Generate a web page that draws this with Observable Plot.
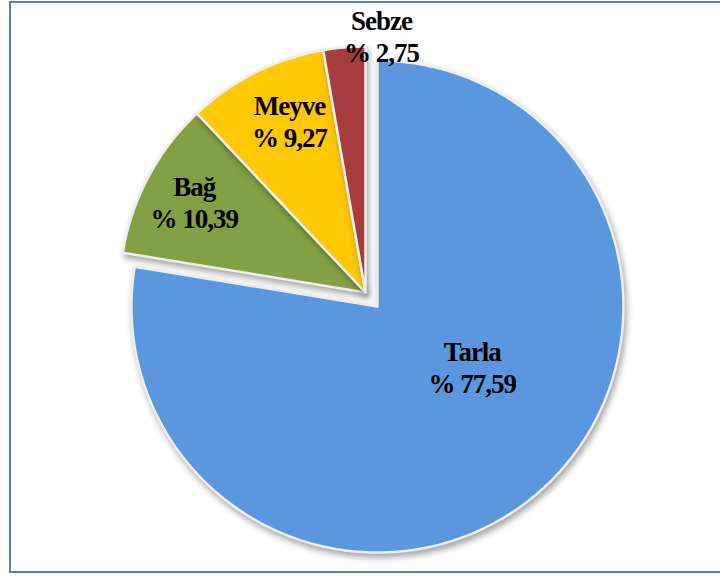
<!DOCTYPE html>
<html><head><meta charset="utf-8">
<script src="https://cdn.jsdelivr.net/npm/d3@7"></script>
<script src="https://cdn.jsdelivr.net/npm/@observablehq/plot@0.6"></script>
<style>
body{margin:0;background:#fff;}
#wrap{position:relative;width:720px;height:576px;overflow:hidden;}
#border{position:absolute;left:9px;top:1px;width:740px;height:572px;border:2px solid #4f81bd;box-sizing:border-box;pointer-events:none;}
</style></head><body>
<div id="wrap"><div id="border"></div></div>
<script>
// data
const categories = ["Tarla", "Bağ", "Meyve", "Sebze"];
const shares = [77.59, 10.39, 9.27, 2.75];
const shareLabels = ["% 77,59", "% 10,39", "% 9,27", "% 2,75"];

// styles / layout
const colors = ["#5b97de", "#84a045", "#ffc806", "#a63c3c"];
const explode = [0.075, 0, 0, 0];                 // fraction of radius
const labelPolar = [[123, 0.46], [297.6, 0.785], [335.9, 0.757], [3.6, 1.04]]; // [deg, r]

const rad = Math.PI / 180;
const pie = d3.pie().sort(null).startAngle(0).endAngle(2 * Math.PI)(shares);

const slices = pie.map((p, i) => {
  const mid = (p.startAngle + p.endAngle) / 2;
  const cx = explode[i] * Math.sin(mid), cy = -explode[i] * Math.cos(mid);
  const n = Math.max(2, Math.ceil((p.endAngle - p.startAngle) / rad));
  const ring = [[cx, cy]];
  for (let k = 0; k <= n; k++) {
    const a = p.startAngle + (p.endAngle - p.startAngle) * k / n;
    ring.push([cx + Math.sin(a), cy - Math.cos(a)]);
  }
  ring.push([cx, cy]);
  const [ld, lr] = labelPolar[i];
  return {
    type: "Feature",
    properties: {
      name: categories[i], label: shareLabels[i], color: colors[i],
      lx: cx + lr * Math.sin(ld * rad), ly: cy - lr * Math.cos(ld * rad)
    },
    geometry: {type: "Polygon", coordinates: [ring]}
  };
});
const labels = slices.map(s => s.properties);

const textOpts = {x: "lx", y: "ly", fontSize: 27, fontWeight: "bold", fill: "#000", fontFamily: "Liberation Serif", textAnchor: "middle", clip: false};

const chart = Plot.plot({
  width: 720,
  height: 576,
  marginLeft: 119, marginRight: 109, marginTop: 46, marginBottom: 38,
  projection: {type: "identity", clip: false, domain: {type: "MultiPoint", coordinates: [[-1, -1], [1, 1]]}},
  color: {type: "identity"},
  marks: [
    Plot.geo(slices, {fill: d => d.properties.color, stroke: "#eeeeee", strokeWidth: 2.5, clip: false}),
    Plot.text(labels, {...textOpts, text: "name", dy: -16}),
    Plot.text(labels, {...textOpts, text: "label", dy: 16})
  ]
});
d3.select(chart).selectAll("g[aria-label=geo] path").style("filter", "drop-shadow(2px 4px 3px rgba(0,0,0,0.35))");
d3.select(chart).selectAll("g[aria-label=text]").style("letter-spacing", "-1px");
document.getElementById("wrap").prepend(chart);
</script>
</body></html>
